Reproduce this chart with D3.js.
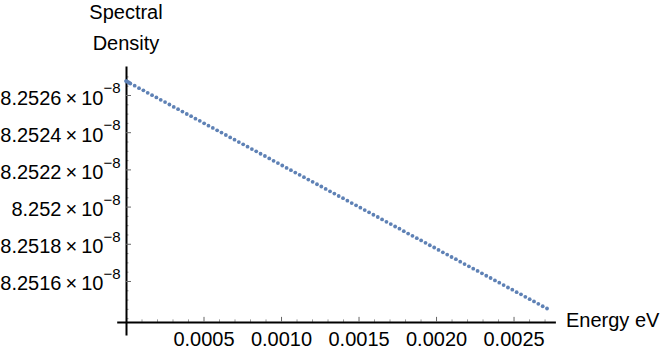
<!DOCTYPE html>
<html>
<head>
<meta charset="utf-8">
<script src="https://cdn.jsdelivr.net/npm/d3@7"></script>
<style>
  body { margin: 0; background: #fff; }
  svg text { font-family: "Liberation Sans", Arial, Helvetica, sans-serif; fill: #000; }
</style>
</head>
<body>
<div id="chart"></div>
<script>
// energy in eV
var energy = [0, 0.000005, 0.000012, 0.00002,
  0.000028, 0.000056, 0.000084, 0.000112, 0.00014, 0.000168, 0.000196, 0.000224, 0.000252, 0.00028,
  0.000308, 0.000336, 0.000364, 0.000392, 0.00042, 0.000448, 0.000476, 0.000504, 0.000532, 0.00056,
  0.000588, 0.000616, 0.000644, 0.000672, 0.0007, 0.000728, 0.000756, 0.000784, 0.000812, 0.00084,
  0.000868, 0.000896, 0.000924, 0.000952, 0.00098, 0.001008, 0.001036, 0.001064, 0.001092, 0.00112,
  0.001148, 0.001176, 0.001204, 0.001232, 0.00126, 0.001288, 0.001316, 0.001344, 0.001372, 0.0014,
  0.001428, 0.001456, 0.001484, 0.001512, 0.00154, 0.001568, 0.001596, 0.001624, 0.001652, 0.00168,
  0.001708, 0.001736, 0.001764, 0.001792, 0.00182, 0.001848, 0.001876, 0.001904, 0.001932, 0.00196,
  0.001988, 0.002016, 0.002044, 0.002072, 0.0021, 0.002128, 0.002156, 0.002184, 0.002212, 0.00224,
  0.002268, 0.002296, 0.002324, 0.002352, 0.00238, 0.002408, 0.002436, 0.002464, 0.002492, 0.00252,
  0.002548, 0.002576, 0.002604, 0.002632, 0.00266, 0.002688, 0.002716];

// spectral density, in units of 10^-8
var density = [8.252675, 8.252673, 8.252670, 8.252666,
  8.252662, 8.252650, 8.252637, 8.252625, 8.252612, 8.252599, 8.252587, 8.252574, 8.252562, 8.252549,
  8.252536, 8.252524, 8.252511, 8.252498, 8.252486, 8.252473, 8.252461, 8.252448, 8.252435, 8.252423,
  8.252410, 8.252398, 8.252385, 8.252372, 8.252360, 8.252347, 8.252335, 8.252322, 8.252309, 8.252297,
  8.252284, 8.252272, 8.252259, 8.252246, 8.252234, 8.252221, 8.252208, 8.252196, 8.252183, 8.252171,
  8.252158, 8.252145, 8.252133, 8.252120, 8.252108, 8.252095, 8.252082, 8.252070, 8.252057, 8.252045,
  8.252032, 8.252019, 8.252007, 8.251994, 8.251981, 8.251969, 8.251956, 8.251944, 8.251931, 8.251918,
  8.251906, 8.251893, 8.251881, 8.251868, 8.251855, 8.251843, 8.251830, 8.251818, 8.251805, 8.251792,
  8.251780, 8.251767, 8.251754, 8.251742, 8.251729, 8.251717, 8.251704, 8.251691, 8.251679, 8.251666,
  8.251654, 8.251641, 8.251628, 8.251616, 8.251603, 8.251591, 8.251578, 8.251565, 8.251553, 8.251540,
  8.251528, 8.251515, 8.251502, 8.251490, 8.251477, 8.251464, 8.251452];

var xTicks = [0.0005, 0.0010, 0.0015, 0.0020, 0.0025];
var xTickLabels = ["0.0005", "0.0010", "0.0015", "0.0020", "0.0025"];
var xMinorTicks = [0.0001, 0.0002, 0.0003, 0.0004, 0.0006, 0.0007, 0.0008, 0.0009, 0.0011, 0.0012,
  0.0013, 0.0014, 0.0016, 0.0017, 0.0018, 0.0019, 0.0021, 0.0022, 0.0023, 0.0024, 0.0026, 0.0027];

var yTicks = [8.2526, 8.2524, 8.2522, 8.2520, 8.2518, 8.2516];
var yTickLabels = ["8.2526", "8.2524", "8.2522", "8.252", "8.2518", "8.2516"];
var yMinorTicks = [8.25140, 8.25145, 8.25150, 8.25155, 8.25165, 8.25170, 8.25175, 8.25185, 8.25190,
  8.25195, 8.25205, 8.25210, 8.25215, 8.25225, 8.25230, 8.25235, 8.25245, 8.25250, 8.25255, 8.25265, 8.25270];

var width = 666, height = 353;

var svg = d3.select("#chart")
  .append("svg")
  .attr("width", width)
  .attr("height", height);

var x = d3.scaleLinear()
  .domain([-0.00006, 0.00277])
  .range([116.7, 555.4]);

var y = d3.scaleLinear()
  .domain([8.25131, 8.252756])
  .range([334.9, 66]);

var yCross = 8.25138;

// minor ticks x
svg.append("g")
  .attr("transform", "translate(0," + y(yCross) + ")")
  .call(d3.axisBottom(x).tickValues(xMinorTicks).tickSize(-2.5).tickSizeOuter(0).tickFormat(""))
  .call(function(g) { g.select(".domain").remove(); })
  .selectAll("line").attr("stroke", "#999");

// minor ticks y
svg.append("g")
  .attr("transform", "translate(" + x(0) + ",0)")
  .call(d3.axisLeft(y).tickValues(yMinorTicks).tickSize(-2.5).tickSizeOuter(0).tickFormat(""))
  .call(function(g) { g.select(".domain").remove(); })
  .selectAll("line").attr("stroke", "#999");

// x axis
var xAxis = svg.append("g")
  .attr("transform", "translate(0," + y(yCross) + ")")
  .call(d3.axisBottom(x).tickValues(xTicks).tickSize(-5).tickSizeOuter(0).tickPadding(10)
    .tickFormat(function(d, i) { return xTickLabels[i]; }));
xAxis.select(".domain").attr("stroke", "#000").attr("stroke-width", 2);
xAxis.selectAll(".tick line").attr("stroke", "#666");
xAxis.selectAll("text").style("font-size", "20px");

// y axis
var yAxis = svg.append("g")
  .attr("transform", "translate(" + x(0) + ",0)")
  .call(d3.axisLeft(y).tickValues(yTicks).tickSize(-5).tickSizeOuter(0).tickPadding(5.5)
    .tickFormat(""));
yAxis.select(".domain").attr("stroke", "#000").attr("stroke-width", 2);
yAxis.selectAll(".tick line").attr("stroke", "#666");
yAxis.selectAll(".tick text")
  .attr("dy", "0.45em")
  .style("font-size", "20px")
  .each(function(d, i) {
    var t = d3.select(this);
    t.append("tspan").text(yTickLabels[i] + "\u2009\u00d7\u200910");
    t.append("tspan").attr("dy", -11.3).style("font-size", "15px").text("\u22128");
  });

// points
svg.append("g")
  .selectAll("circle")
  .data(energy)
  .enter()
  .append("circle")
  .attr("cx", function(d) { return x(d); })
  .attr("cy", function(d, i) { return y(density[i]); })
  .attr("r", 1.9)
  .attr("fill", "#5E81B5");

// axis titles
svg.append("text")
  .attr("x", x(0))
  .attr("y", 18.5)
  .attr("text-anchor", "middle")
  .style("font-size", "20px")
  .text("Spectral");

svg.append("text")
  .attr("x", x(0))
  .attr("y", 49.5)
  .attr("text-anchor", "middle")
  .style("font-size", "20px")
  .text("Density");

svg.append("text")
  .attr("x", 566)
  .attr("y", 327)
  .attr("text-anchor", "start")
  .style("font-size", "20px")
  .text("Energy eV");
</script>
</body>
</html>
